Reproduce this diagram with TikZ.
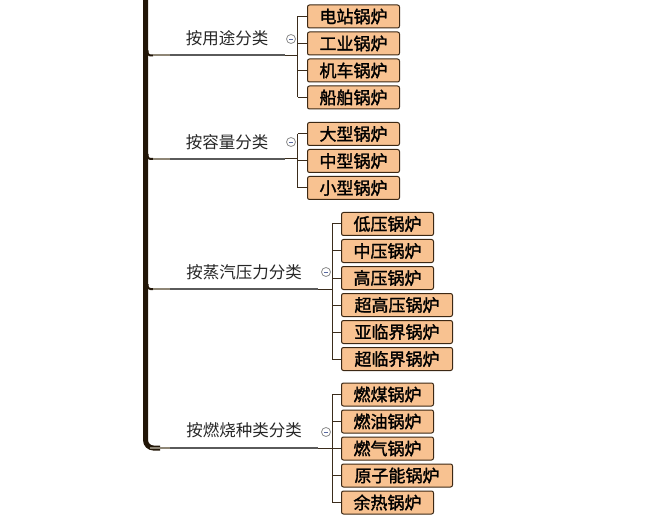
\documentclass[tikz,border=0pt]{standalone}
\usepackage{fontspec}
\newfontfamily\cjk{Noto Sans CJK SC}
\newfontfamily\cjkb{Noto Sans CJK SC}[FakeBold=1.6]
\definecolor{trunkc}{HTML}{221608}
\definecolor{lightln}{HTML}{8E8676}
\definecolor{darkln}{HTML}{5A5A5A}
\definecolor{thinln}{HTML}{3A2C1C}
\definecolor{peach}{HTML}{F8C291}
\definecolor{boxln}{HTML}{3C2814}
\definecolor{minusc}{HTML}{5868A0}
\tikzset{
  leafbox/.style={draw=boxln, line width=1pt, fill=peach, rounded corners=2pt,
    anchor=west, minimum width=92pt, minimum height=23pt, inner sep=0pt,
    font=\cjkb\fontsize{17pt}{17pt}\selectfont},
  wideleaf/.style={leafbox, minimum width=111pt},
  catlabel/.style={inner sep=0pt, font=\cjk\fontsize{16.5pt}{16.5pt}\selectfont, text=black!85},
  thin/.style={draw=thinln, line width=1pt},
  togglec/.style={circle, draw=black!45, fill=white, line width=0.8pt, minimum size=9pt, inner sep=0pt},
}
\begin{document}
\begin{tikzpicture}[x=1pt,y=-1pt]
\useasboundingbox (0,0) rectangle (666,521);
% trunk
\draw[trunkc, line width=5pt, rounded corners=8pt] (145.5,-5) -- (145.5,448) -- (160,448);
\coordinate (trunkend) at (150,448);
% branch label nodes
\node[catlabel] (b1) at (227,38) {按用途分类};
\node[catlabel] (b2) at (227,142) {按容量分类};
\node[catlabel] (b3) at (244,272) {按蒸汽压力分类};
\node[catlabel] (b4) at (244,430) {按燃烧种类分类};
% branch lines
\foreach \yy/\xe/\br/\nm in {55.5/285/297.5/1, 159/285/297.5/2, 289/318/332/3} {
  \coordinate (s\nm) at (147.5,\yy-5);
  \coordinate (m\nm) at (170,\yy);
  \coordinate (e\nm) at (\xe,\yy);
  \coordinate (k\nm) at (\br,\yy);
  \draw[trunkc, line width=2pt, rounded corners=3pt] (s\nm) |- (153,\yy);
  \draw[lightln, line width=2pt] (153,\yy) -- (m\nm);
  \draw[darkln, line width=2pt] (m\nm) -- (e\nm);
  \draw[thin] (e\nm) -- (k\nm);
}
\coordinate (m4) at (170,448);
\coordinate (e4) at (318,448);
\coordinate (k4) at (332,448);
\draw[lightln, line width=2pt] (trunkend) -- (m4);
\draw[darkln, line width=2pt] (m4) -- (e4);
\draw[thin] (e4) -- (k4);
% toggles
\foreach \xx/\yy/\nm in {291/39/1, 291/142/2, 326/272/3, 326/432/4} {
  \node[togglec] (t\nm) at (\xx,\yy) {};
  \draw[minusc, line width=0.8pt] ([xshift=-2.2pt]t\nm.center) -- ([xshift=2.2pt]t\nm.center);
}
% group 1
\node[leafbox] (c11) at (307,16.5) {电站锅炉};
\node[leafbox] (c12) at (307,43.5) {工业锅炉};
\node[leafbox] (c13) at (307,70.5) {机车锅炉};
\node[leafbox] (c14) at (307,97.5) {船舶锅炉};
\coordinate (v11) at (297.5,16.5);
\coordinate (v14) at (297.5,97.5);
\draw[thin] (v11) -- (v14);
\foreach \i in {1,...,4} { \draw[thin] (297.5,0 |- c1\i.west) -- (c1\i.west); }
% group 2
\node[leafbox] (c21) at (307,134) {大型锅炉};
\node[leafbox] (c22) at (307,161) {中型锅炉};
\node[leafbox] (c23) at (307,188) {小型锅炉};
\coordinate (v21) at (297.5,134);
\coordinate (v23) at (297.5,188);
\draw[thin] (v21) -- (v23);
\foreach \i in {1,...,3} { \draw[thin] (297.5,0 |- c2\i.west) -- (c2\i.west); }
% group 3
\node[leafbox] (c31) at (341,224) {低压锅炉};
\node[leafbox] (c32) at (341,251) {中压锅炉};
\node[leafbox] (c33) at (341,278) {高压锅炉};
\node[wideleaf] (c34) at (341,305) {超高压锅炉};
\node[wideleaf] (c35) at (341,332) {亚临界锅炉};
\node[wideleaf] (c36) at (341,359) {超临界锅炉};
\coordinate (v31) at (332,224);
\coordinate (v36) at (332,359);
\draw[thin] (v31) -- (v36);
\foreach \i in {1,...,6} { \draw[thin] (332,0 |- c3\i.west) -- (c3\i.west); }
% group 4
\node[leafbox] (c41) at (341,394.5) {燃煤锅炉};
\node[leafbox] (c42) at (341,421.5) {燃油锅炉};
\node[leafbox] (c43) at (341,448.5) {燃气锅炉};
\node[wideleaf] (c44) at (341,475.5) {原子能锅炉};
\node[leafbox] (c45) at (341,502.5) {余热锅炉};
\coordinate (v41) at (332,394.5);
\coordinate (v45) at (332,502.5);
\draw[thin] (v41) -- (v45);
\foreach \i in {1,...,5} { \draw[thin] (332,0 |- c4\i.west) -- (c4\i.west); }
\end{tikzpicture}
\end{document}
